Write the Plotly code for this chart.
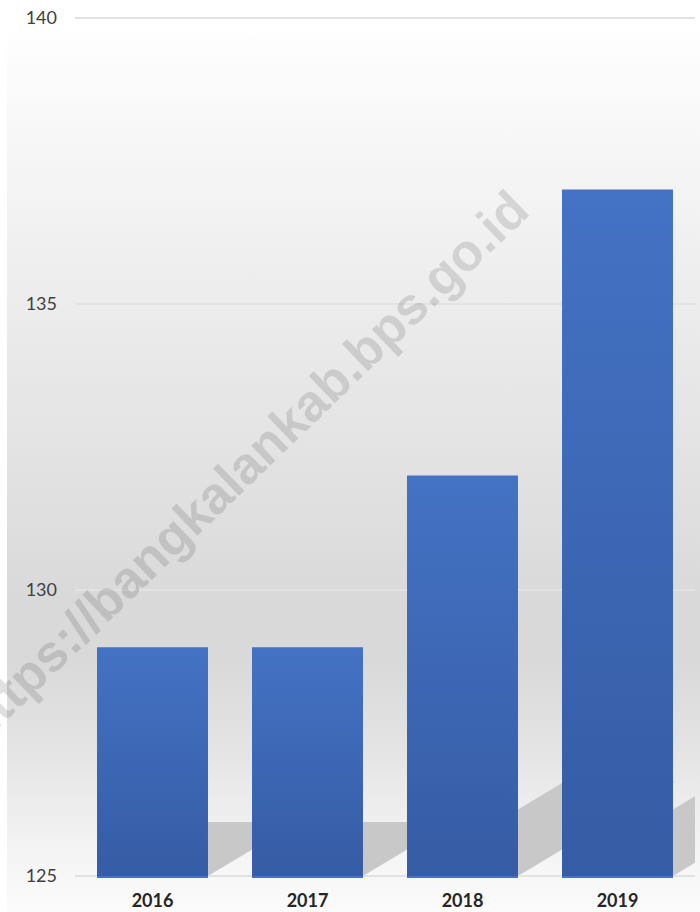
import base64
import plotly.graph_objects as go

# ---- data -------------------------------------------------------------
years = ["2016", "2017", "2018", "2019"]
values = [129, 129, 132, 137]
y_ticks = [125, 130, 135, 140]
watermark = "https://bangkalankab.bps.go.id"

# ---- layout constants -------------------------------------------------
W, H = 700, 912
M_L, M_R, M_T, M_B = 75, 5, 16, 34
Y_MIN, Y_MAX = 125, 140
Y_PAD = 0.035           # keeps the edge gridlines inside the clip area
BAR_GAP = 0.284
BAR_COLOR = "#4472C4"
SHADOW_COLOR = "#c8c8c8"
SHADOW_LEN = 0.236      # shadow height as a share of bar height
SHADOW_SLOPE = 0.6      # rise over run of the slanted shadow edges

plot_w = W - M_L - M_R
plot_h = H - M_T - M_B
px_per_y = plot_h / (Y_MAX - Y_MIN + 2 * Y_PAD)
px_per_x = plot_w / len(years)
positions = list(range(len(years)))
bar_w = 1 - BAR_GAP


def svg_uri(svg):
    return "data:image/svg+xml;base64," + base64.b64encode(svg.encode()).decode()


def gradient_svg(stops):
    parts = "".join(
        f'<stop offset="{o}" stop-color="{c}" stop-opacity="{a}"/>' for o, c, a in stops
    )
    return svg_uri(
        '<svg xmlns="http://www.w3.org/2000/svg" width="10" height="100" '
        'viewBox="0 0 10 100" preserveAspectRatio="none">'
        '<defs><linearGradient id="g" x1="0" y1="0" x2="0" y2="1">'
        f"{parts}</linearGradient></defs>"
        '<rect width="10" height="100" fill="url(#g)"/></svg>'
    )


def paper_x(px):
    return (px - M_L) / plot_w


def paper_y(px):
    return (H - M_B - px) / plot_h


# chart-area backdrop: light at the top, grey in the middle, light again at the foot
panel_src = gradient_svg([
    (0.0, "#fefefe", 1), (0.308, "#ececec", 1), (0.531, "#e0e0e0", 1),
    (0.645, "#d9d9d9", 1), (0.714, "#d9d9d9", 1), (0.817, "#e4e4e4", 1),
    (0.895, "#efefef", 1), (0.959, "#f7f7f7", 1), (1.0, "#fbfbfb", 1),
])
# darkening toward the foot of each bar
bar_shade_src = gradient_svg([(0.0, "rgb(20,40,90)", 0), (1.0, "rgb(20,40,90)", 0.3)])

fig = go.Figure()
fig.add_trace(go.Bar(
    x=positions, y=values, marker=dict(color=BAR_COLOR, line=dict(width=0)),
    hoverinfo="skip", showlegend=False,
))

images = [dict(
    source=panel_src, xref="paper", yref="paper",
    x=paper_x(7), y=paper_y(33),
    sizex=(W - 7) / plot_w, sizey=(H - 33) / plot_h,
    xanchor="left", yanchor="top", sizing="stretch", layer="below",
)]
shapes = []
for pos, v in zip(positions, values):
    left, right = pos - bar_w / 2, pos + bar_w / 2
    images.append(dict(
        source=bar_shade_src, xref="x", yref="y",
        x=left, y=v, sizex=bar_w, sizey=v - Y_MIN,
        xanchor="left", yanchor="top", sizing="stretch", layer="above",
    ))
    # slanted cast shadow behind each bar
    dy = SHADOW_LEN * (v - Y_MIN)
    dx = dy * px_per_y / SHADOW_SLOPE / px_per_x
    shapes.append(dict(
        type="path", xref="x", yref="y", layer="below",
        path=(f"M{left},{Y_MIN} L{right},{Y_MIN} L{right + dx},{Y_MIN + dy} "
              f"L{left + dx},{Y_MIN + dy} Z"),
        fillcolor=SHADOW_COLOR, line=dict(width=0),
    ))

fig.add_annotation(
    text=f"<b>{watermark}</b>", xref="paper", yref="paper",
    x=paper_x(244), y=paper_y(466),
    xanchor="center", yanchor="middle", showarrow=False, textangle=-44,
    font=dict(family="Liberation Sans", size=52, color="rgba(0,0,0,0.12)"),
)

fig.update_layout(
    width=W, height=H,
    margin=dict(l=M_L, r=M_R, t=M_T, b=M_B, autoexpand=False),
    paper_bgcolor="white", plot_bgcolor="rgba(0,0,0,0)",
    bargap=BAR_GAP, images=images, shapes=shapes,
    xaxis=dict(
        range=[-0.5, len(years) - 0.5], tickvals=positions, ticktext=years,
        showgrid=False, zeroline=False, showline=False, ticks="",
        ticklabelstandoff=10, automargin=False,
        tickfont=dict(family="Lato", size=18, color="#262626", weight="bold"),
    ),
    yaxis=dict(
        range=[Y_MIN - Y_PAD, Y_MAX + Y_PAD], tickvals=y_ticks, showgrid=True,
        gridcolor="#e2e2e2", gridwidth=1.5, zeroline=False, showline=False,
        ticks="", ticklabelstandoff=17, automargin=False,
        tickfont=dict(family="Lato", size=18, color="#404040"),
    ),
)

fig.write_html("out.html")
